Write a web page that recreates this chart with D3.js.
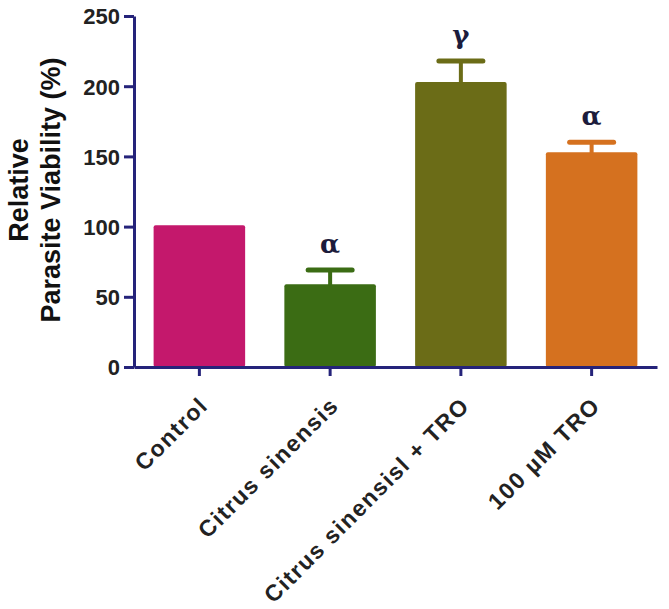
<!DOCTYPE html>
<html>
<head>
<meta charset="utf-8">
<script src="https://cdn.jsdelivr.net/npm/d3@7"></script>
<style>
    body { margin: 0; background: #fff; }
    svg { display: block; font-family: "Liberation Sans", Arial, sans-serif; }
</style>
</head>
<body>
<div id="chart"></div>
<script>
// chart data
let categories = ["Control", "Citrus sinensis", "Citrus sinensisl + TRO", "100 \u00B5M TRO"];
let means = [101, 59, 203, 153];
let errors = [0, 10, 15, 7];
let marks = ["", "\u03B1", "\u03B3", "\u03B1"];
let yTicks = [0, 50, 100, 150, 200, 250];

let width = 669, height = 609;
let axisColor = "#25237a";

let color = d3.scaleOrdinal()
    .domain(categories)
    .range(["#c4186c", "#3b6c14", "#6b6c17", "#d5711f"]);

let svg = d3.select("#chart")
    .append("svg")
    .attr("width", width)
    .attr("height", height);

// scales
let x = d3.scaleBand()
    .domain(categories)
    .range([134, 657])
    .paddingInner(0.3)
    .paddingOuter(0.15);

let y = d3.scaleLinear()
    .domain([0, 250])
    .range([367, 16]);

// bars
svg.selectAll(".bar")
    .data(categories)
    .enter()
    .append("rect")
    .attr("class", "bar")
    .attr("x", function (d) { return x(d); })
    .attr("y", function (d, i) { return y(means[i]); })
    .attr("width", x.bandwidth())
    .attr("height", function (d, i) { return y(0) - y(means[i]); })
    .attr("rx", 2)
    .attr("fill", function (d) { return color(d); });

// error bars (upper only)
let err = svg.selectAll(".err")
    .data(categories.filter(function (d, i) { return errors[i] > 0; }))
    .enter()
    .append("g")
    .attr("class", "err")
    .attr("stroke", function (d) { return color(d); })
    .attr("stroke-linecap", "round");

err.append("line")
    .attr("x1", function (d) { return x(d) + x.bandwidth() / 2; })
    .attr("x2", function (d) { return x(d) + x.bandwidth() / 2; })
    .attr("y1", function (d) { let i = categories.indexOf(d); return y(means[i]); })
    .attr("y2", function (d) { let i = categories.indexOf(d); return y(means[i] + errors[i]); })
    .attr("stroke-width", 4);

err.append("line")
    .attr("x1", function (d) { return x(d) + x.bandwidth() / 2 - 22; })
    .attr("x2", function (d) { return x(d) + x.bandwidth() / 2 + 22; })
    .attr("y1", function (d) { let i = categories.indexOf(d); return y(means[i] + errors[i]); })
    .attr("y2", function (d) { let i = categories.indexOf(d); return y(means[i] + errors[i]); })
    .attr("stroke-width", 5);

// significance marks
svg.selectAll(".mark")
    .data(categories)
    .enter()
    .append("text")
    .attr("class", "mark")
    .attr("x", function (d) { return x(d) + x.bandwidth() / 2; })
    .attr("y", function (d, i) { return y(means[i] + errors[i]) - 17; })
    .attr("text-anchor", "middle")
    .style("font-family", "'DejaVu Serif', serif")
    .style("font-weight", "bold")
    .style("font-size", "26px")
    .style("fill", "#1c1c3c")
    .text(function (d, i) { return marks[i]; });

// y axis
let yAxis = svg.append("g")
    .attr("transform", "translate(134,0)")
    .call(d3.axisLeft(y).tickValues(yTicks).tickSize(10).tickSizeOuter(0).tickPadding(4));

yAxis.select(".domain").attr("stroke", axisColor).attr("stroke-width", 3);
yAxis.selectAll(".tick line").attr("stroke", axisColor).attr("stroke-width", 3);
yAxis.selectAll(".tick text")
    .style("font-family", "'Liberation Sans', Arial, sans-serif")
    .style("font-size", "22px")
    .style("font-weight", "bold")
    .style("fill", "#222")
    .attr("dy", "0.36em");

// x axis
let xAxis = svg.append("g")
    .attr("transform", "translate(0,367)")
    .call(d3.axisBottom(x).tickSize(9).tickSizeOuter(0));

xAxis.select(".domain").attr("stroke", axisColor).attr("stroke-width", 3);
xAxis.selectAll(".tick line").attr("stroke", axisColor).attr("stroke-width", 3);
xAxis.selectAll(".tick text")
    .style("font-family", "'Liberation Sans', Arial, sans-serif")
    .style("font-size", "23px")
    .style("font-weight", "bold")
    .style("letter-spacing", "1.5px")
    .style("fill", "#222")
    .attr("text-anchor", "end")
    .attr("dy", null)
    .attr("y", null)
    .attr("transform", "translate(10,40) rotate(-45)");

// y axis title
let title = svg.append("text")
    .attr("transform", "translate(0,190) rotate(-90)")
    .attr("text-anchor", "middle")
    .style("font-family", "'Liberation Sans', Arial, sans-serif")
    .style("font-size", "27px")
    .style("font-weight", "bold")
    .style("fill", "#111");

title.append("tspan").attr("x", 0).attr("y", 28).text("Relative");
title.append("tspan").attr("x", 0).attr("y", 60).text("Parasite Viability (%)");
</script>
</body>
</html>
